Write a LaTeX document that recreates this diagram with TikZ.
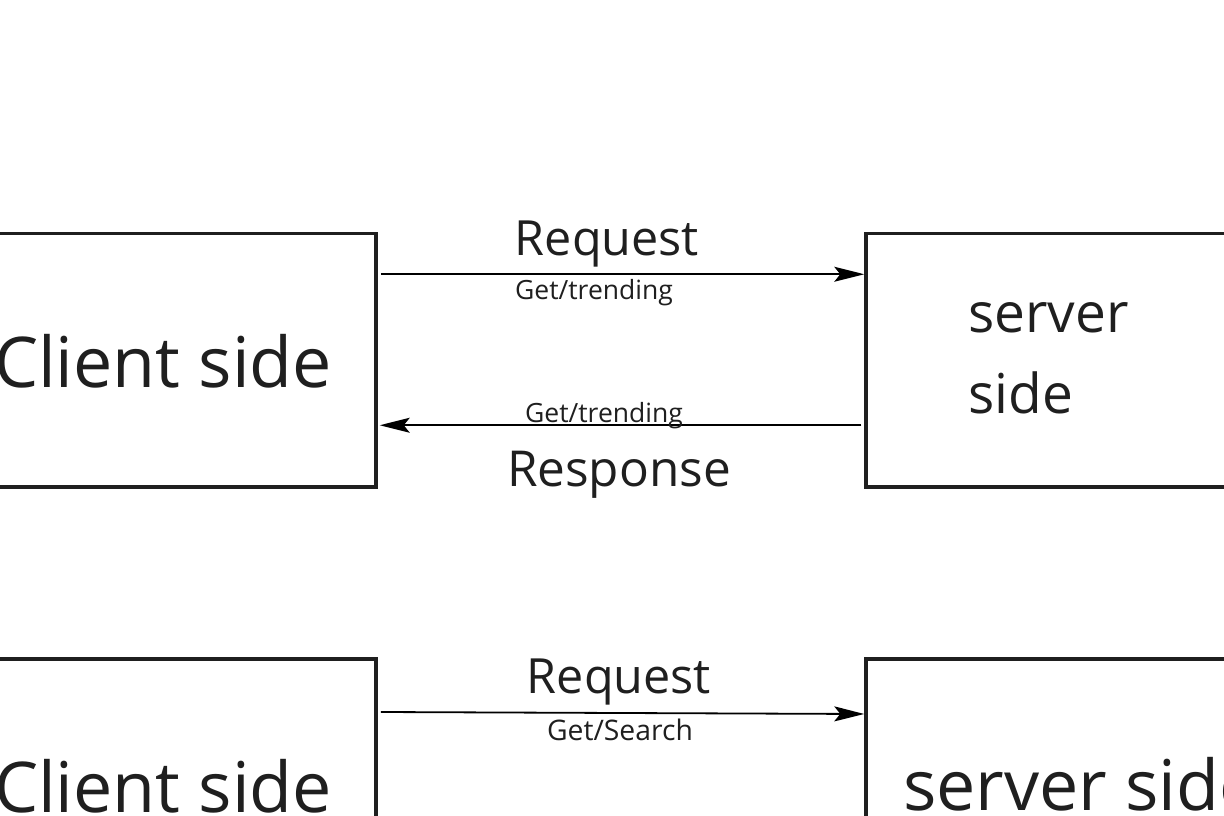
\documentclass[tikz,border=0pt]{standalone}
\usepackage{fontspec}
\setmainfont{Open Sans}
\usetikzlibrary{arrows.meta}
\definecolor{ink}{HTML}{1F1F1F}
\tikzset{
  box/.style={draw=ink, line width=3.5pt, rectangle, inner sep=0pt},
  arr/.style={draw=black, line width=1.8pt, -{Stealth[length=30pt,width=15pt,inset=6pt]}},
  lbl/.style={text=ink, inner sep=0pt, anchor=base},
}
\begin{document}
\begin{tikzpicture}[x=1pt,y=-1pt]
\useasboundingbox (0,0) rectangle (1224,816);
\clip (0,0) rectangle (1224,816);
\fill[white] (0,0) rectangle (1224,816);
% boxes
\node[box, minimum width=416pt, minimum height=253.5pt] (c1) at (168,360.25) {};
\node[box, minimum width=394pt, minimum height=253.5pt] (s1) at (1063,360.25) {};
\node[box, minimum width=416pt, minimum height=241pt] (c2) at (168,779.5) {};
\node[box, minimum width=394pt, minimum height=241pt] (s2) at (1063,779.5) {};
% box texts
\node[lbl, font=\fontsize{70}{80}\selectfont] (ct1) at (163,387) {Client side};
\node[lbl, anchor=base west, align=left, font=\fontsize{55}{81}\selectfont] (st1) at (968,413) {server\\side};
\node[lbl, font=\fontsize{70}{80}\selectfont] (ct2) at (163,812) {Client side};
\node[lbl, anchor=base west, font=\fontsize{70}{80}\selectfont] (st2) at (903,810) {server side};
% arrows
\draw[arr] ([xshift=3pt,yshift=86pt]c1.east) -- ([yshift=86pt]s1.west);
\draw[arr] ([xshift=-3pt,yshift=-65pt]s1.west) -- ([xshift=2pt,yshift=-65pt]c1.east);
\draw[arr] ([xshift=3pt,yshift=67.5pt]c2.east) -- ([yshift=65.5pt]s2.west);
% arrow labels
\node[lbl, font=\fontsize{48.5}{56}\selectfont] (rq1) at (607,255) {Request};
\node[lbl, font=\fontsize{26.5}{30}\selectfont] (g1) at (594,299) {Get/trending};
\node[lbl, font=\fontsize{26.5}{30}\selectfont] (g2) at (604,422) {Get/trending};
\node[lbl, font=\fontsize{49.5}{56}\selectfont] (rs1) at (619,486) {Response};
\node[lbl, font=\fontsize{48.5}{56}\selectfont] (rq2) at (619,693) {Request};
\node[lbl, font=\fontsize{28.3}{32}\selectfont] (g3) at (620,740) {Get/Search};
\end{tikzpicture}
\end{document}
